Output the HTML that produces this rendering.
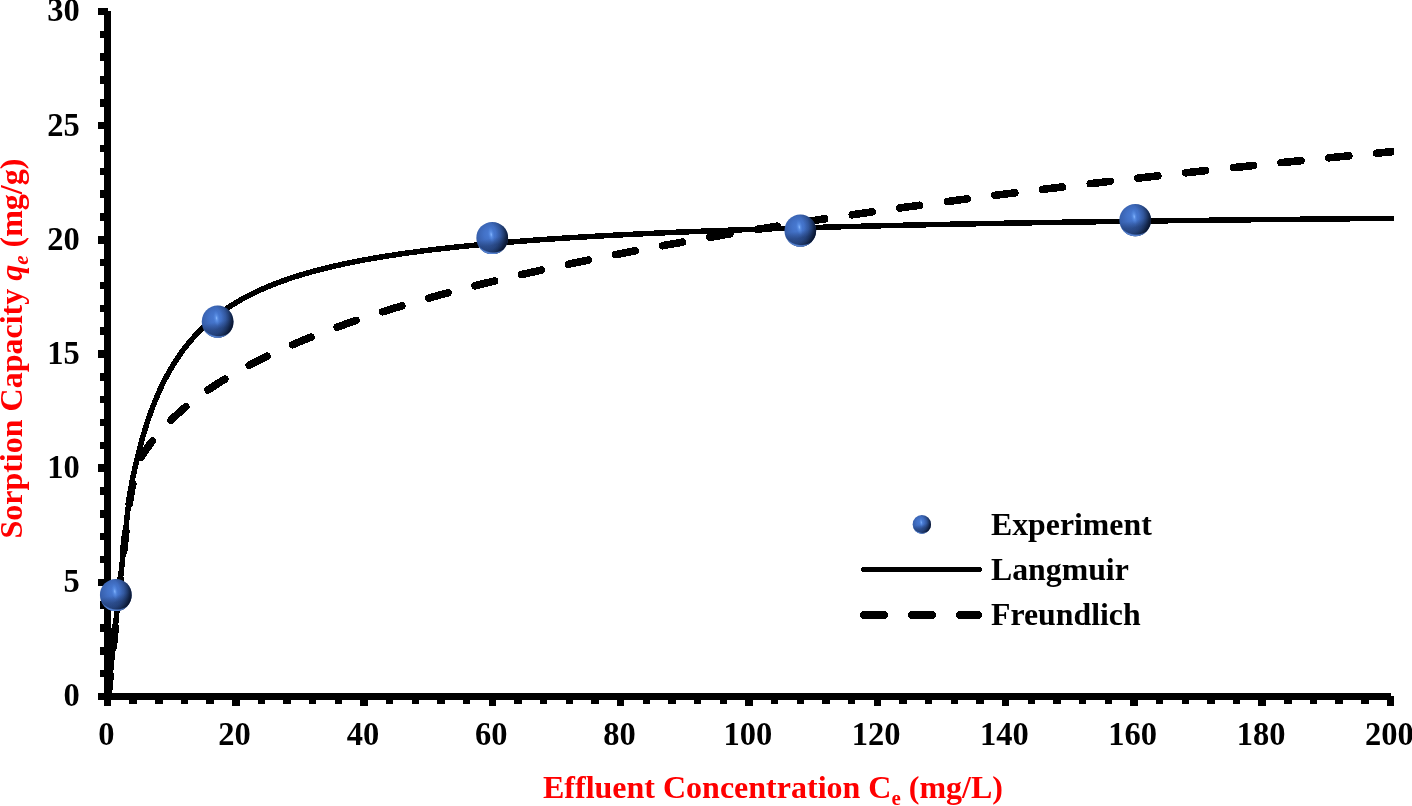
<!DOCTYPE html>
<html lang="en"><head><meta charset="utf-8"><title>Sorption isotherm</title>
<style>
html,body{margin:0;padding:0;background:#fff;}
body{width:1412px;height:806px;overflow:hidden;}
svg{display:block;}
text{font-family:"Liberation Serif",serif;font-weight:bold;}
.tick text{font-size:32.5px;fill:#000;}
.ttl{font-size:32px;fill:#ff0000;}
.leg text{font-size:31.8px;fill:#000;}
</style></head><body>
<svg width="1412" height="806" viewBox="0 0 1412 806">
<defs>
<radialGradient id="sph" gradientUnits="userSpaceOnUse" cx="-2" cy="-4" r="21" fx="-2" fy="-4">
<stop offset="0" stop-color="#4a7cd4"/>
<stop offset="0.3" stop-color="#4372c8"/>
<stop offset="0.55" stop-color="#3b65b4"/>
<stop offset="0.8" stop-color="#3259a2"/>
<stop offset="1" stop-color="#2b4e90"/>
</radialGradient>
<radialGradient id="shade" gradientUnits="userSpaceOnUse" cx="-10" cy="-4" r="26.77">
<stop offset="0.5" stop-color="#142850" stop-opacity="0"/>
<stop offset="0.68" stop-color="#142850" stop-opacity="0.25"/>
<stop offset="0.8" stop-color="#10203f" stop-opacity="0.52"/>
<stop offset="0.9" stop-color="#0c1a36" stop-opacity="0.82"/>
<stop offset="1" stop-color="#08122a" stop-opacity="1"/>
</radialGradient>
<linearGradient id="band" gradientUnits="userSpaceOnUse" x1="-3" y1="-16" x2="3" y2="16">
<stop offset="0.5" stop-color="#162a54" stop-opacity="0"/>
<stop offset="0.72" stop-color="#162a54" stop-opacity="0.38"/>
<stop offset="0.9" stop-color="#162a54" stop-opacity="0.3"/>
<stop offset="1" stop-color="#162a54" stop-opacity="0.2"/>
</linearGradient>
<radialGradient id="rim" gradientUnits="userSpaceOnUse" cx="1" cy="-6" r="22.03">
<stop offset="0.9" stop-color="#5c8ce0" stop-opacity="0"/>
<stop offset="0.955" stop-color="#5c8ce0" stop-opacity="0.85"/>
<stop offset="1" stop-color="#5c8ce0" stop-opacity="0.95"/>
</radialGradient>
<radialGradient id="hl" gradientUnits="userSpaceOnUse" cx="-1" cy="-3.5" r="6" gradientTransform="translate(-1,-3.5) rotate(-8) scale(0.55,1.3) translate(1,3.5)">
<stop offset="0" stop-color="#8abaff" stop-opacity="1"/>
<stop offset="0.35" stop-color="#6aa0f4" stop-opacity="0.55"/>
<stop offset="1" stop-color="#5088e0" stop-opacity="0"/>
</radialGradient>
<clipPath id="plot"><rect x="100" y="0" width="1294" height="720"/></clipPath>
</defs>
<rect width="1412" height="806" fill="#fff"/>
<g fill="#000" shape-rendering="crispEdges">
<rect x="104" y="11" width="7" height="689"/>
<rect x="104" y="693" width="1287" height="7"/>
<rect x="98" y="693" width="10" height="7"/><rect x="100" y="670" width="8" height="7"/><rect x="100" y="647" width="8" height="8"/><rect x="100" y="624" width="8" height="8"/><rect x="100" y="601" width="8" height="8"/><rect x="98" y="579" width="10" height="7"/><rect x="100" y="556" width="8" height="7"/><rect x="100" y="533" width="8" height="7"/><rect x="100" y="510" width="8" height="8"/><rect x="100" y="487" width="8" height="8"/><rect x="98" y="464" width="10" height="8"/><rect x="100" y="442" width="8" height="7"/><rect x="100" y="419" width="8" height="7"/><rect x="100" y="396" width="8" height="7"/><rect x="100" y="373" width="8" height="8"/><rect x="98" y="350" width="10" height="8"/><rect x="100" y="327" width="8" height="8"/><rect x="100" y="305" width="8" height="7"/><rect x="100" y="282" width="8" height="7"/><rect x="100" y="259" width="8" height="7"/><rect x="98" y="236" width="10" height="8"/><rect x="100" y="213" width="8" height="8"/><rect x="100" y="190" width="8" height="8"/><rect x="100" y="168" width="8" height="7"/><rect x="100" y="145" width="8" height="7"/><rect x="98" y="122" width="10" height="7"/><rect x="100" y="99" width="8" height="8"/><rect x="100" y="76" width="8" height="8"/><rect x="100" y="53" width="8" height="8"/><rect x="100" y="31" width="8" height="7"/><rect x="98" y="8" width="10" height="7"/><rect x="104" y="696" width="7" height="10"/><rect x="129" y="696" width="8" height="8"/><rect x="155" y="696" width="8" height="8"/><rect x="181" y="696" width="7" height="8"/><rect x="206" y="696" width="8" height="8"/><rect x="232" y="696" width="8" height="10"/><rect x="258" y="696" width="7" height="8"/><rect x="283" y="696" width="8" height="8"/><rect x="309" y="696" width="7" height="8"/><rect x="335" y="696" width="7" height="8"/><rect x="360" y="696" width="8" height="10"/><rect x="386" y="696" width="7" height="8"/><rect x="412" y="696" width="7" height="8"/><rect x="437" y="696" width="8" height="8"/><rect x="463" y="696" width="7" height="8"/><rect x="489" y="696" width="7" height="10"/><rect x="514" y="696" width="8" height="8"/><rect x="540" y="696" width="7" height="8"/><rect x="566" y="696" width="7" height="8"/><rect x="591" y="696" width="8" height="8"/><rect x="617" y="696" width="7" height="10"/><rect x="643" y="696" width="7" height="8"/><rect x="668" y="696" width="8" height="8"/><rect x="694" y="696" width="7" height="8"/><rect x="720" y="696" width="7" height="8"/><rect x="745" y="696" width="8" height="10"/><rect x="771" y="696" width="7" height="8"/><rect x="797" y="696" width="7" height="8"/><rect x="822" y="696" width="8" height="8"/><rect x="848" y="696" width="7" height="8"/><rect x="874" y="696" width="7" height="10"/><rect x="899" y="696" width="8" height="8"/><rect x="925" y="696" width="7" height="8"/><rect x="951" y="696" width="7" height="8"/><rect x="976" y="696" width="8" height="8"/><rect x="1002" y="696" width="7" height="10"/><rect x="1028" y="696" width="7" height="8"/><rect x="1053" y="696" width="8" height="8"/><rect x="1079" y="696" width="7" height="8"/><rect x="1105" y="696" width="7" height="8"/><rect x="1130" y="696" width="8" height="10"/><rect x="1156" y="696" width="7" height="8"/><rect x="1182" y="696" width="7" height="8"/><rect x="1207" y="696" width="8" height="8"/><rect x="1233" y="696" width="7" height="8"/><rect x="1258" y="696" width="8" height="10"/><rect x="1284" y="696" width="8" height="8"/><rect x="1310" y="696" width="7" height="8"/><rect x="1335" y="696" width="8" height="8"/><rect x="1361" y="696" width="8" height="8"/><rect x="1387" y="696" width="7" height="10"/>
</g>
<g class="tick"><text transform="translate(79.7,706.4) scale(1,1.06)" text-anchor="end">0</text><text transform="translate(79.7,592.2) scale(1,1.06)" text-anchor="end">5</text><text transform="translate(79.7,478.1) scale(1,1.06)" text-anchor="end">10</text><text transform="translate(79.7,363.9) scale(1,1.06)" text-anchor="end">15</text><text transform="translate(79.7,249.7) scale(1,1.06)" text-anchor="end">20</text><text transform="translate(79.7,135.6) scale(1,1.06)" text-anchor="end">25</text><text transform="translate(79.7,21.4) scale(1,1.06)" text-anchor="end">30</text><text transform="translate(106.3,744.6) scale(1,1.06)" text-anchor="middle">0</text><text transform="translate(234.6,744.6) scale(1,1.06)" text-anchor="middle">20</text><text transform="translate(362.9,744.6) scale(1,1.06)" text-anchor="middle">40</text><text transform="translate(491.2,744.6) scale(1,1.06)" text-anchor="middle">60</text><text transform="translate(619.5,744.6) scale(1,1.06)" text-anchor="middle">80</text><text transform="translate(747.8,744.6) scale(1,1.06)" text-anchor="middle">100</text><text transform="translate(876.1,744.6) scale(1,1.06)" text-anchor="middle">120</text><text transform="translate(1004.4,744.6) scale(1,1.06)" text-anchor="middle">140</text><text transform="translate(1132.7,744.6) scale(1,1.06)" text-anchor="middle">160</text><text transform="translate(1261.0,744.6) scale(1,1.06)" text-anchor="middle">180</text><text transform="translate(1389.3,744.6) scale(1,1.06)" text-anchor="middle">200</text></g>
<text class="ttl" x="543" y="797.5">Effluent Concentration C<tspan font-size="21" dy="7">e</tspan><tspan dy="-7"> (mg/L)</tspan></text>
<text class="ttl" transform="translate(21.5,538.6) rotate(-90)">Sorption Capacity <tspan font-style="italic">q</tspan><tspan font-style="italic" font-size="21" dy="6.5">e</tspan><tspan dy="-6.5"> (mg/g)</tspan></text>
<g fill="none" stroke="#000" stroke-linecap="round" stroke-linejoin="round" clip-path="url(#plot)" shape-rendering="crispEdges">
<path d="M108.08,696.50 L108.27,694.50 L108.46,692.50 L108.65,690.50 L108.85,688.50 L109.05,686.50 L109.25,684.50 L109.45,682.50 L109.66,680.50 L109.86,678.50 L110.07,676.50 L110.28,674.50 L110.48,672.50 L110.69,670.50 L110.90,668.50 L111.11,666.50 L111.32,664.50 L111.53,662.50 L111.74,660.50 L111.95,658.50 L112.17,656.50 L112.38,654.50 L112.59,652.50 L112.80,650.50 L113.01,648.50 L113.22,646.50 L113.44,644.50 L113.65,642.50 L113.86,640.50 L114.07,638.50 L114.29,636.50 L114.50,634.50 L114.71,632.50 L114.92,630.50 L115.14,628.50 L115.35,626.50 L115.56,624.50 L115.78,622.50 L115.99,620.50 L116.20,618.50 L116.42,616.50 L116.63,614.50 L116.84,612.50 L117.06,610.50 L117.27,608.50 L117.48,606.50 L117.70,604.50 L117.91,602.50 L118.13,600.50 L118.34,598.50 L118.55,596.50 L118.77,594.50 L118.98,592.50 L119.19,590.50 L119.41,588.50 L119.62,586.50 L119.84,584.50 L120.05,582.50 L120.26,580.50 L120.48,578.50 L120.69,576.50 L120.91,574.50 L121.12,572.50 L121.34,570.50 L121.55,568.50 L121.76,566.50 L121.98,564.50 L122.19,562.50 L122.41,560.50 L122.62,558.50 L122.84,556.50 L123.05,554.50 L123.27,552.50 L123.48,550.50 L123.70,548.50 L123.91,546.50 L124.13,544.50 L124.34,542.50 L124.56,540.50 L124.77,538.50 L124.99,536.50 L125.21,534.50 L125.42,532.50 L125.64,530.50 L125.86,528.50 L126.07,526.50 L126.29,524.50 L126.51,522.50 L126.73,520.50 L126.95,518.50 L127.17,516.50 L127.39,514.50 L127.61,512.50 L127.84,510.50 L128.07,508.50 L128.30,506.50 L128.53,504.50 L128.77,502.50 L129.02,500.50 L129.28,498.50 L129.55,496.50 L129.84,494.50 L130.15,492.50 L130.47,490.50 L130.81,488.50 L131.17,486.50 L131.54,484.50 L131.91,482.50 L132.30,480.50 L132.70,478.50 L133.11,476.50 L133.52,474.50 L133.95,472.50 L134.38,470.50 L134.82,468.50 L135.26,466.50 L135.72,464.50 L136.18,462.50 L136.65,460.50 L137.12,458.50 L137.61,456.50 L138.10,454.50 L138.60,452.50 L139.11,450.50 L139.63,448.50 L140.16,446.50 L140.69,444.50 L141.24,442.50 L141.79,440.50 L142.33,438.50 L142.91,436.50 L143.49,434.50 L144.09,432.50 L144.70,430.50 L145.32,428.50 L145.94,426.50 L146.58,424.50 L147.24,422.50 L147.90,420.50 L148.58,418.50 L149.27,416.50 L149.97,414.50 L150.69,412.50 L151.42,410.50 L152.17,408.50 L152.93,406.50 L153.70,404.50 L154.49,402.50 L155.30,400.50 L155.51,400.00 L156.15,398.45 L156.79,396.92 L157.43,395.42 L158.07,393.94 L158.71,392.49 L159.35,391.05 L160.00,389.64 L160.64,388.25 L161.28,386.88 L161.92,385.53 L162.56,384.21 L163.20,382.90 L163.85,381.61 L164.49,380.34 L165.13,379.08 L165.77,377.85 L166.41,376.63 L167.05,375.43 L167.69,374.25 L168.34,373.08 L168.98,371.93 L169.62,370.80 L170.26,369.68 L170.90,368.58 L171.54,367.49 L172.18,366.41 L175.39,361.25 L178.60,356.41 L181.81,351.86 L185.01,347.58 L188.22,343.55 L191.43,339.74 L194.64,336.14 L197.84,332.73 L201.05,329.49 L204.26,326.41 L207.47,323.49 L210.67,320.70 L213.88,318.05 L217.09,315.51 L220.30,313.09 L223.50,310.78 L226.71,308.56 L229.92,306.43 L233.13,304.40 L236.33,302.44 L239.54,300.56 L242.75,298.75 L245.96,297.01 L249.16,295.34 L252.37,293.73 L255.58,292.17 L258.79,290.67 L261.99,289.22 L265.20,287.82 L268.41,286.47 L271.62,285.16 L274.82,283.89 L278.03,282.66 L281.24,281.48 L284.45,280.33 L287.65,279.21 L290.86,278.13 L294.07,277.07 L297.28,276.05 L300.48,275.06 L303.69,274.10 L306.90,273.16 L310.11,272.25 L313.31,271.36 L316.52,270.50 L319.73,269.66 L322.94,268.84 L326.14,268.05 L329.35,267.27 L332.56,266.51 L335.77,265.77 L338.97,265.05 L342.18,264.35 L345.39,263.66 L348.60,262.99 L351.80,262.34 L355.01,261.70 L358.22,261.07 L361.43,260.46 L364.63,259.86 L367.84,259.28 L371.05,258.71 L374.26,258.15 L377.46,257.60 L380.67,257.06 L383.88,256.54 L387.09,256.03 L390.29,255.52 L393.50,255.03 L396.71,254.55 L399.92,254.07 L403.12,253.61 L406.33,253.15 L409.54,252.70 L412.75,252.27 L415.95,251.84 L419.16,251.41 L422.37,251.00 L425.58,250.59 L428.78,250.20 L431.99,249.80 L435.20,249.42 L438.41,249.04 L441.61,248.67 L444.82,248.30 L448.03,247.95 L451.24,247.59 L454.44,247.25 L457.65,246.91 L460.86,246.57 L464.07,246.24 L467.27,245.92 L470.48,245.60 L473.69,245.28 L476.90,244.98 L480.10,244.67 L483.31,244.37 L486.52,244.08 L489.73,243.79 L492.93,243.50 L505.76,242.41 L518.59,241.37 L531.42,240.39 L544.25,239.47 L557.08,238.60 L569.91,237.77 L582.74,236.98 L595.57,236.24 L608.40,235.52 L621.23,234.85 L634.06,234.20 L646.89,233.58 L659.72,232.99 L672.55,232.43 L685.38,231.88 L698.21,231.37 L711.04,230.87 L723.87,230.39 L736.70,229.93 L749.53,229.49 L762.36,229.06 L775.19,228.65 L788.02,228.26 L800.85,227.88 L813.68,227.51 L826.51,227.15 L839.34,226.81 L852.17,226.48 L865.00,226.16 L877.83,225.84 L890.66,225.54 L903.49,225.25 L916.32,224.97 L929.15,224.69 L941.98,224.43 L954.81,224.17 L967.64,223.92 L980.47,223.67 L993.30,223.44 L1006.13,223.21 L1018.96,222.98 L1031.79,222.76 L1044.62,222.55 L1057.45,222.34 L1070.28,222.14 L1083.11,221.95 L1095.94,221.76 L1108.77,221.57 L1121.60,221.39 L1134.43,221.21 L1147.26,221.04 L1160.09,220.87 L1172.92,220.70 L1185.75,220.54 L1198.58,220.38 L1211.41,220.23 L1224.24,220.08 L1237.07,219.93 L1249.90,219.78 L1262.73,219.64 L1275.56,219.50 L1288.39,219.37 L1301.22,219.24 L1314.05,219.11 L1326.88,218.98 L1339.71,218.86 L1352.54,218.73 L1365.37,218.61 L1378.20,218.50 L1391.03,218.38 L1400.12,218.30" stroke-width="5.5"/>
<path d="M1400.12,150.91 L1387.29,152.13 L1374.46,153.37 L1361.63,154.62 L1348.80,155.87 L1335.97,157.14 L1323.14,158.42 L1310.31,159.71 L1297.48,161.00 L1284.65,162.31 L1271.82,163.63 L1258.99,164.96 L1246.16,166.31 L1233.33,167.66 L1220.50,169.03 L1207.67,170.41 L1194.84,171.80 L1182.01,173.20 L1169.18,174.62 L1156.35,176.05 L1143.52,177.50 L1130.69,178.96 L1117.86,180.43 L1105.03,181.92 L1092.20,183.42 L1079.37,184.93 L1066.54,186.47 L1053.71,188.02 L1040.88,189.58 L1028.05,191.16 L1015.22,192.76 L1002.39,194.38 L989.56,196.01 L976.73,197.67 L963.90,199.34 L951.07,201.03 L938.24,202.74 L925.41,204.47 L912.58,206.23 L899.75,208.00 L886.92,209.80 L874.09,211.62 L861.26,213.46 L848.43,215.33 L835.60,217.23 L822.77,219.15 L809.94,221.09 L797.11,223.07 L784.28,225.07 L771.45,227.11 L758.62,229.17 L745.79,231.26 L732.96,233.39 L720.13,235.56 L707.30,237.75 L694.47,239.99 L681.64,242.26 L668.81,244.57 L655.98,246.93 L643.15,249.32 L630.32,251.76 L617.49,254.25 L604.66,256.79 L591.83,259.38 L579.00,262.02 L566.17,264.72 L553.34,267.47 L540.51,270.29 L527.68,273.18 L514.85,276.13 L502.02,279.16 L498.81,279.93 L495.61,280.70 L492.40,281.48 L489.19,282.26 L485.99,283.05 L482.78,283.84 L479.57,284.64 L476.36,285.45 L473.16,286.26 L469.95,287.07 L466.74,287.89 L463.53,288.72 L460.32,289.55 L457.12,290.39 L453.91,291.24 L450.70,292.09 L447.50,292.94 L444.29,293.81 L441.08,294.67 L437.87,295.55 L434.67,296.43 L431.46,297.32 L428.25,298.22 L425.04,299.12 L421.83,300.03 L418.63,300.95 L415.42,301.87 L412.21,302.80 L409.00,303.74 L405.80,304.69 L402.59,305.65 L399.38,306.61 L396.18,307.58 L392.97,308.56 L389.76,309.55 L386.55,310.55 L383.35,311.55 L380.14,312.57 L376.93,313.59 L373.72,314.63 L370.51,315.67 L367.31,316.72 L364.10,317.79 L360.89,318.86 L357.69,319.95 L354.48,321.04 L351.27,322.15 L348.06,323.27 L344.86,324.40 L341.65,325.54 L338.44,326.69 L335.23,327.86 L332.02,329.04 L328.82,330.23 L325.61,331.43 L322.40,332.65 L319.19,333.89 L315.99,335.13 L312.78,336.40 L309.57,337.67 L306.37,338.97 L303.16,340.28 L299.95,341.61 L296.74,342.95 L293.53,344.31 L290.33,345.69 L287.12,347.09 L283.91,348.51 L280.71,349.95 L277.50,351.41 L274.29,352.89 L271.08,354.39 L267.88,355.92 L264.67,357.47 L261.46,359.04 L258.25,360.65 L255.04,362.27 L251.84,363.93 L248.63,365.61 L245.42,367.32 L242.22,369.07 L239.01,370.84 L235.80,372.66 L232.59,374.50 L229.38,376.38 L226.18,378.31 L222.97,380.27 L219.76,382.27 L216.56,384.32 L213.35,386.42 L210.14,388.57 L206.93,390.77 L203.72,393.02 L200.52,395.34 L197.31,397.71 L194.10,400.16 L190.89,402.67 L187.69,405.26 L184.48,407.94 L181.27,410.70 L178.06,413.55 L174.86,416.51 L174.22,417.11 L173.57,417.72 L172.93,418.33 L172.29,418.95 L171.65,419.57 L171.01,420.20 L170.37,420.83 L169.73,421.47 L169.08,422.11 L168.44,422.76 L167.80,423.42 L167.16,424.07 L166.52,424.74 L165.88,425.41 L165.24,426.08 L164.59,426.77 L163.95,427.45 L163.31,428.15 L162.67,428.85 L162.03,429.55 L161.39,430.26 L160.74,430.98 L160.10,431.71 L159.46,432.44 L158.82,433.18 L158.18,433.93 L157.54,434.68 L156.90,435.44 L156.25,436.21 L155.61,436.99 L154.97,437.78 L154.33,438.57 L153.69,439.37 L153.05,440.18 L152.41,441.00 L151.76,441.83 L151.12,442.67 L150.48,443.52 L149.84,444.37 L149.20,445.24 L148.56,446.12 L147.91,447.01 L147.27,447.91 L146.63,448.82 L145.99,449.74 L145.35,450.68 L144.71,451.62 L144.07,452.58 L143.42,453.56 L142.78,454.54 L142.14,455.54 L141.50,456.56 L140.86,457.59 L140.22,458.63 L139.58,459.69 L139.57,459.69 L138.91,461.69 L138.27,463.69 L137.65,465.69 L137.06,467.69 L136.48,469.69 L135.91,471.69 L135.37,473.69 L134.84,475.69 L134.33,477.69 L133.83,479.69 L133.35,481.69 L132.89,483.69 L132.44,485.69 L132.01,487.69 L131.60,489.69 L131.21,491.69 L130.84,493.69 L130.50,495.69 L130.17,497.69 L129.87,499.69 L129.57,501.69 L129.29,503.69 L129.02,505.69 L128.75,507.69 L128.50,509.69 L128.24,511.69 L127.99,513.69 L127.75,515.69 L127.50,517.69 L127.26,519.69 L127.02,521.69 L126.79,523.69 L126.55,525.69 L126.32,527.69 L126.09,529.69 L125.85,531.69 L125.63,533.69 L125.40,535.69 L125.17,537.69 L124.94,539.69 L124.72,541.69 L124.49,543.69 L124.27,545.69 L124.04,547.69 L123.82,549.69 L123.60,551.69 L123.38,553.69 L123.15,555.69 L122.93,557.69 L122.71,559.69 L122.49,561.69 L122.27,563.69 L122.05,565.69 L121.83,567.69 L121.61,569.69 L121.39,571.69 L121.17,573.69 L120.96,575.69 L120.74,577.69 L120.52,579.69 L120.30,581.69 L120.08,583.69 L119.86,585.69 L119.65,587.69 L119.43,589.69 L119.21,591.69 L118.99,593.69 L118.78,595.69 L118.56,597.69 L118.34,599.69 L118.13,601.69 L117.91,603.69 L117.69,605.69 L117.48,607.69 L117.26,609.69 L117.04,611.69 L116.83,613.69 L116.61,615.69 L116.39,617.69 L116.18,619.69 L115.96,621.69 L115.75,623.69 L115.53,625.69 L115.31,627.69 L115.10,629.69 L114.88,631.69 L114.67,633.69 L114.45,635.69 L114.24,637.69 L114.02,639.69 L113.81,641.69 L113.59,643.69 L113.38,645.69 L113.16,647.69 L112.95,649.69 L112.73,651.69 L112.52,653.69 L112.30,655.69 L112.09,657.69 L111.88,659.69 L111.66,661.69 L111.45,663.69 L111.24,665.69 L111.02,667.69 L110.81,669.69 L110.60,671.69 L110.39,673.69 L110.18,675.69 L109.97,677.69 L109.76,679.69 L109.55,681.69 L109.35,683.69 L109.14,685.69 L108.94,687.69 L108.74,689.69 L108.54,691.69 L108.35,693.69 L108.15,695.69 L108.08,696.50" stroke-width="7.6" stroke-dasharray="20 28" stroke-dashoffset="44.4"/>
</g>
<g transform="translate(115.8,595) scale(0.9912,1.0063)"><circle r="16" fill="url(#sph)"/><circle r="16" fill="url(#band)"/><circle r="16" fill="url(#shade)"/><circle r="16" fill="url(#rim)"/><circle r="16" fill="url(#hl)"/></g><g transform="translate(217.6,321.7) scale(0.9912,1.0063)"><circle r="16" fill="url(#sph)"/><circle r="16" fill="url(#band)"/><circle r="16" fill="url(#shade)"/><circle r="16" fill="url(#rim)"/><circle r="16" fill="url(#hl)"/></g><g transform="translate(492.2,238) scale(0.9912,1.0063)"><circle r="16" fill="url(#sph)"/><circle r="16" fill="url(#band)"/><circle r="16" fill="url(#shade)"/><circle r="16" fill="url(#rim)"/><circle r="16" fill="url(#hl)"/></g><g transform="translate(800.3,230.6) scale(0.9912,1.0063)"><circle r="16" fill="url(#sph)"/><circle r="16" fill="url(#band)"/><circle r="16" fill="url(#shade)"/><circle r="16" fill="url(#rim)"/><circle r="16" fill="url(#hl)"/></g><g transform="translate(1135.2,220.1) scale(0.9912,1.0063)"><circle r="16" fill="url(#sph)"/><circle r="16" fill="url(#band)"/><circle r="16" fill="url(#shade)"/><circle r="16" fill="url(#rim)"/><circle r="16" fill="url(#hl)"/></g>
<g class="leg">
<g transform="translate(921.8,524.4) scale(0.5725,0.5813)"><circle r="16" fill="url(#sph)"/><circle r="16" fill="url(#band)"/><circle r="16" fill="url(#shade)"/><circle r="16" fill="url(#rim)"/><circle r="16" fill="url(#hl)"/></g>
<g fill="none" stroke="#000" stroke-linecap="round" shape-rendering="crispEdges">
<path d="M863.6,569.4 L979.3,569.4" stroke-width="5.3"/>
<path d="M864,615 L978,615" stroke-width="7.8" stroke-dasharray="20 28"/>
</g>
<text x="991" y="534.5">Experiment</text>
<text x="991" y="580">Langmuir</text>
<text x="991" y="625">Freundlich</text>
</g>
</svg>
</body></html>
